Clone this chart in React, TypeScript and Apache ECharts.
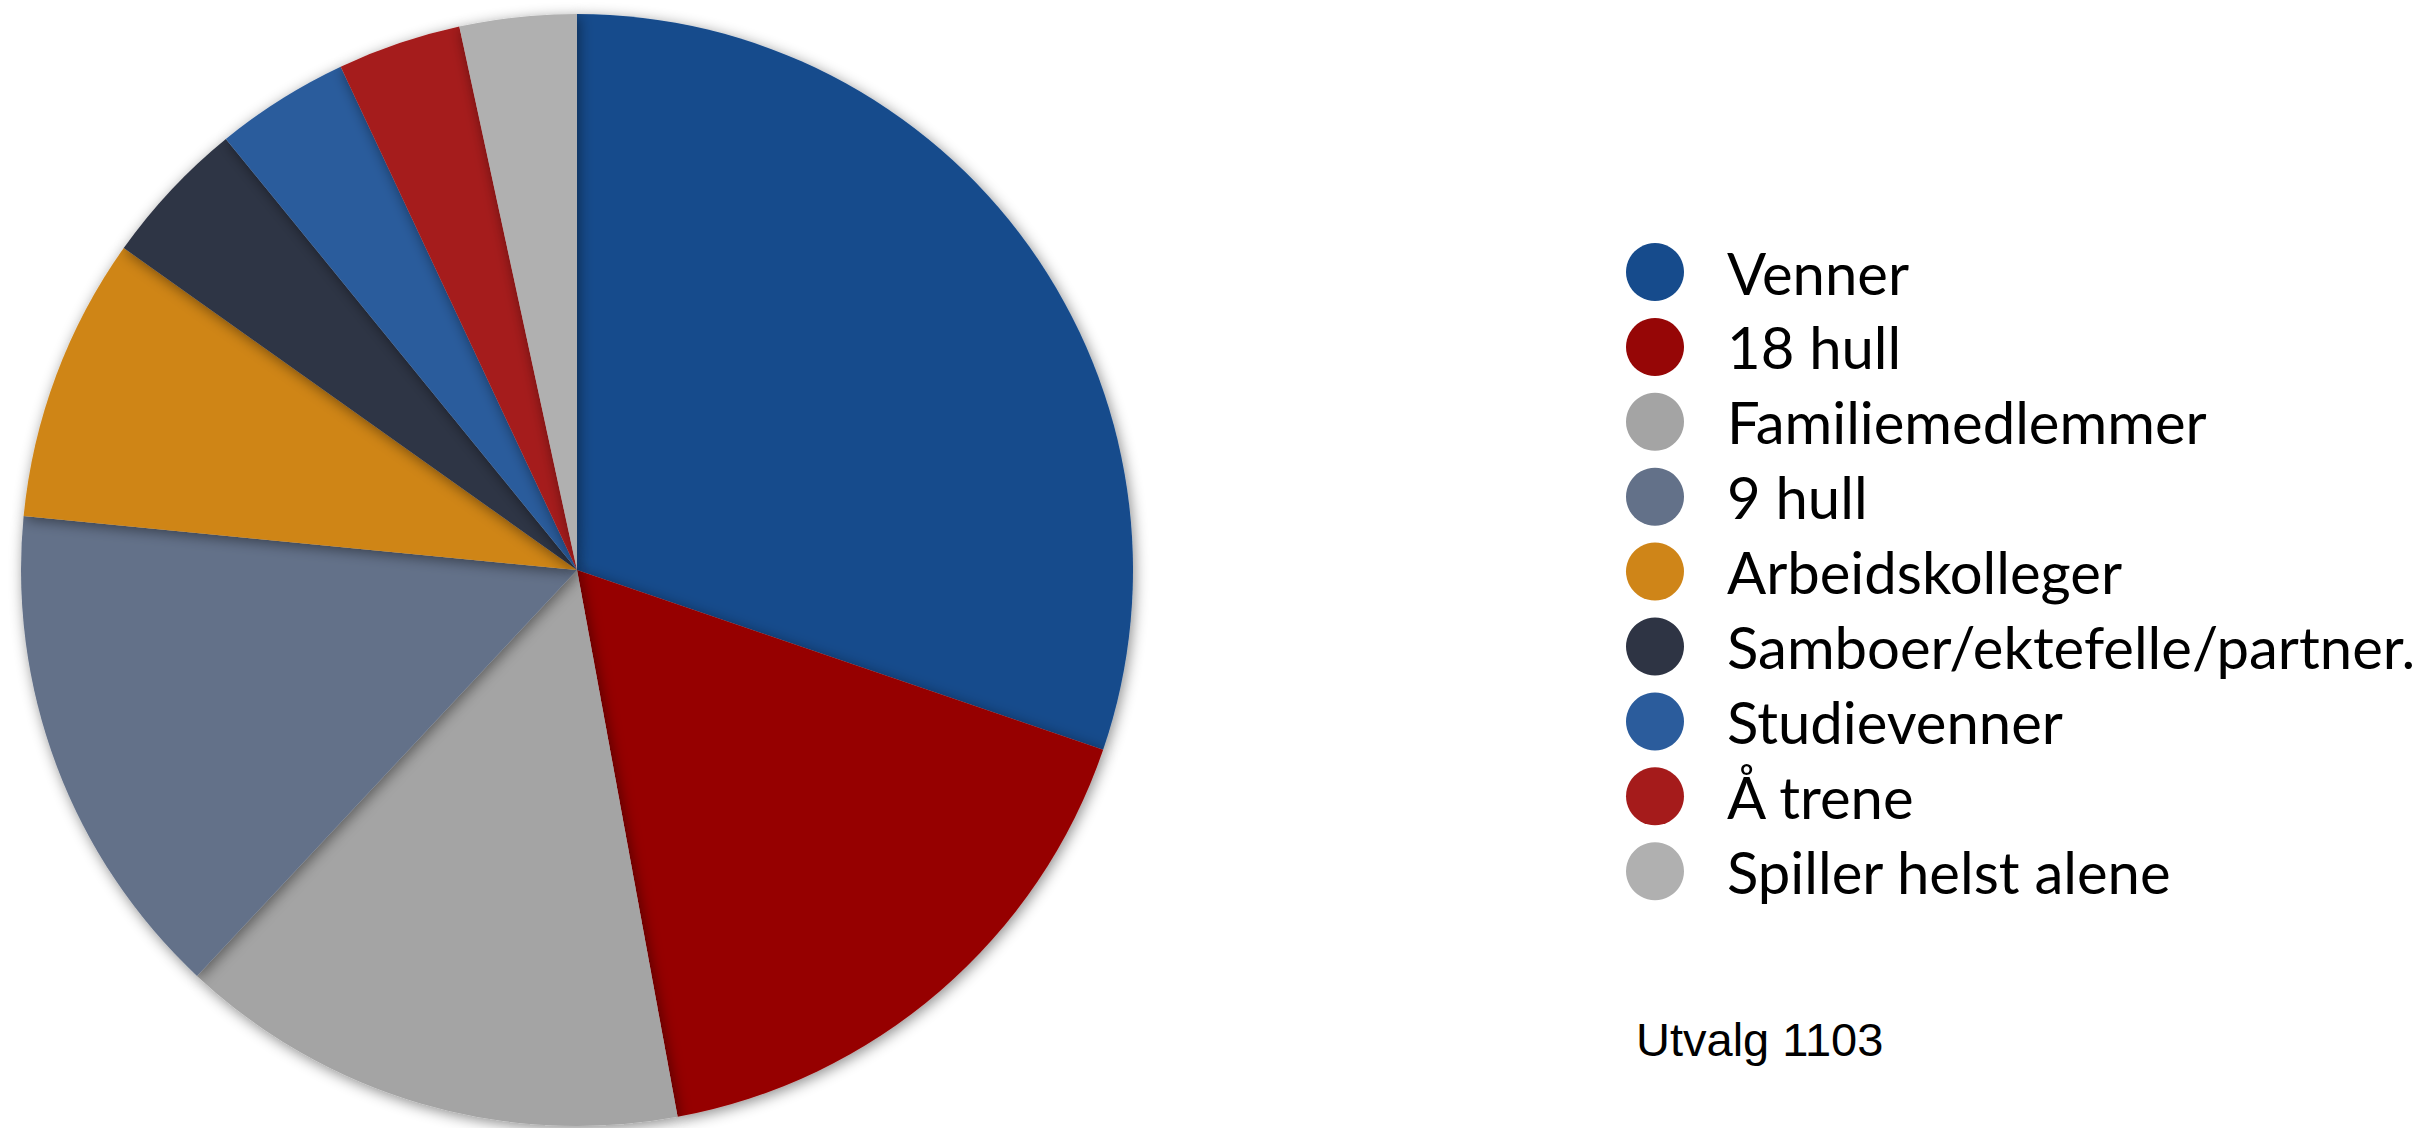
import React, { useEffect, useRef } from "react";
import * as echarts from "echarts";

const categories = [
  "Venner",
  "18 hull",
  "Familiemedlemmer",
  "9 hull",
  "Arbeidskolleger",
  "Samboer/ektefelle/partner.",
  "Studievenner",
  "Å trene",
  "Spiller helst alene",
];
const values = [30.3, 16.9, 14.9, 14.6, 8.3, 4.3, 3.9, 3.6, 3.4];
const colors = [
  "#164B8C",
  "#960606",
  "#A4A4A4",
  "#637189",
  "#CF8518",
  "#2E3444",
  "#2B5C9C",
  "#A51B1B",
  "#B0B0B0",
];
const noteText = "Utvalg 1103";

export default function App() {
  const ref = useRef<HTMLDivElement>(null);
  useEffect(() => {
    document.body.style.margin = "0";
    const chart = echarts.init(ref.current!, null, { renderer: "svg" });
    chart.setOption({
      animation: false,
      backgroundColor: "#ffffff",
      color: colors,
      legend: {
        orient: "vertical",
        left: 1621,
        top: 238,
        icon: "circle",
        itemWidth: 58,
        itemHeight: 58,
        itemGap: 16.9,
        data: categories,
        textStyle: {
          fontFamily: "Lato, 'Noto Sans', sans-serif",
          fontSize: 58,
          lineHeight: 58,
          color: "#000000",
          padding: [0, 0, 0, 38],
        },
      },
      series: [
        {
          type: "pie",
          center: [577, 570],
          radius: [0, 556],
          startAngle: 90,
          clockwise: true,
          label: { show: false },
          labelLine: { show: false },
          emphasis: { disabled: true },
          itemStyle: {
            borderWidth: 0,
            shadowBlur: 14,
            shadowColor: "rgba(0,0,0,0.45)",
            shadowOffsetX: 2,
            shadowOffsetY: 3,
          },
          data: categories.map((name, i) => ({
            name,
            value: values[i],
            itemStyle: { color: colors[i] },
          })),
        },
      ],
      graphic: [
        {
          type: "text",
          left: 1636,
          top: 1016,
          style: {
            text: noteText,
            fontFamily: "'Liberation Sans', Arial, sans-serif",
            fontSize: 47,
            fill: "#000000",
          },
        },
      ],
    });
    return () => chart.dispose();
  }, []);
  return (
    <div
      ref={ref}
      style={{ position: "absolute", left: 0, top: 0, width: 2425, height: 1128 }}
    />
  );
}
